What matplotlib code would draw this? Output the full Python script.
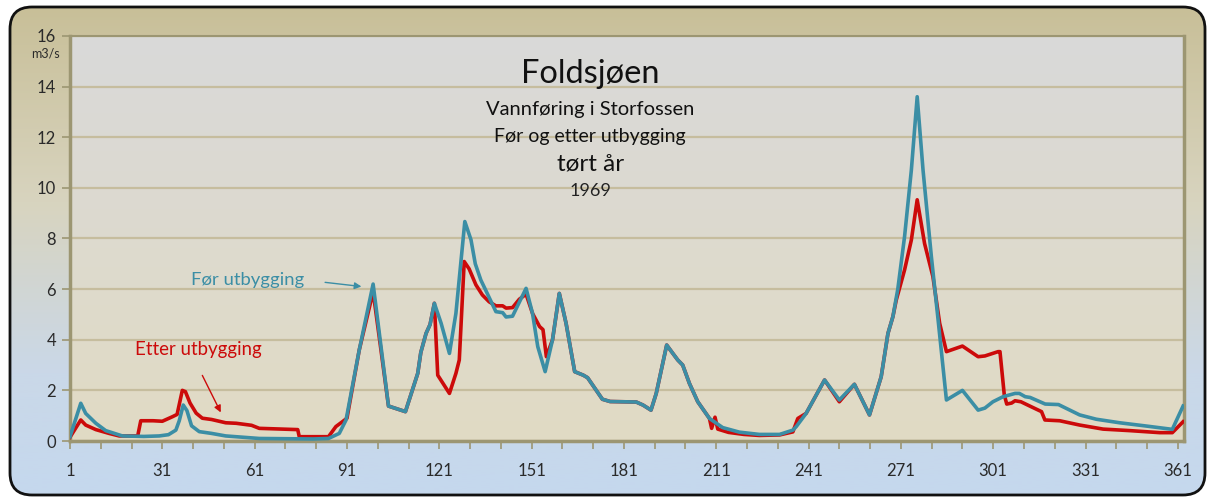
import numpy as np
import matplotlib
matplotlib.use('Agg')
import matplotlib.pyplot as plt
from matplotlib.patches import FancyBboxPatch
from matplotlib.colors import to_rgb

plt.rcParams['font.family'] = ['Lato', 'DejaVu Sans']

# Vannføring før utbygging (dag, m3/s)
dag_for = [1, 4.5, 6.1, 9.4, 12.6, 18, 25, 30, 33, 35.4, 36.5, 37.8, 39, 40.5, 43, 47,
           51.6, 62.5, 80, 85, 88.5, 90.7, 95, 99.5, 104.5, 110, 114, 115, 116.7, 118,
           119.4, 121.6, 124.3, 126.4, 129.3, 131.3, 132.7, 134.5, 136.7, 139.4, 141.6,
           142.7, 144.8, 149.2, 151.3, 153, 155.4, 157.8, 160, 162.2, 165, 167.8, 169.2,
           174, 176.5, 185, 187.2, 189.8, 191.5, 194.9, 196.9, 198.5, 200.1, 202.3, 205,
           208.8, 213.1, 218.5, 225, 231.6, 235.9, 237, 240.2, 246.2, 251, 255.9, 260.8,
           264.6, 266.8, 268.4, 270, 272.2, 274.4, 276.3, 278.2, 280.9, 283.1, 285.8, 291,
           296.1, 298.3, 300.9, 304.2, 308.1, 309.5, 311.4, 313, 317.9, 322.2, 329.1,
           334.5, 342.1, 350.8, 359.2, 362.7]
q_for = [0.17, 1.49, 1.09, 0.7, 0.41, 0.2, 0.18, 0.2, 0.25, 0.43, 0.8, 1.42, 1.2, 0.6, 0.37, 0.3,
         0.2, 0.1, 0.08, 0.1, 0.3, 0.83, 3.6, 6.2, 1.38, 1.16, 2.67, 3.5, 4.25, 4.6,
         5.44, 4.65, 3.46, 5.04, 8.67, 7.95, 7.0, 6.36, 5.8, 5.11, 5.07,
         4.9, 4.93, 6.03, 5.04, 3.73, 2.74, 4.0, 5.83, 4.65, 2.74, 2.6, 2.5,
         1.65, 1.56, 1.54, 1.42, 1.22, 1.88, 3.79, 3.46, 3.2, 3.0, 2.27, 1.55,
         0.89, 0.53, 0.35, 0.26, 0.26, 0.43, 0.57, 1.09, 2.41, 1.62, 2.24, 1.03,
         2.54, 4.25, 4.91, 6.0, 8.08, 10.7, 13.6, 10.7, 7.29, 4.78, 1.62, 2.0,
         1.22, 1.3, 1.55, 1.75, 1.88, 1.88, 1.75, 1.72, 1.46, 1.44, 1.03,
         0.86, 0.72, 0.59, 0.46, 1.38]

# Vannføring etter utbygging
dag_etter = [1, 4.5, 6.1, 9.4, 13.7, 17, 23, 24, 28, 31, 34.3, 35.8, 37.5, 38.5, 40, 42, 44,
             47, 51.6, 55, 60, 62.5, 75, 75.5, 85, 87.4, 89.5, 91, 95, 99.5, 104.5, 110,
             114, 115, 116.7, 118, 119.4, 120.5, 124.3, 126.4, 127.5, 129.1, 130.7, 132.9,
             135, 137.2, 139.4, 141.6, 142.7, 144.8, 147, 149.2, 151.3, 153.6, 154.7,
             155.8, 157.8, 160, 162.2, 165, 167.8, 169.2, 174, 176.5, 185, 187.2, 189.8,
             191.5, 194.9, 196.9, 198.5, 200.1, 202.3, 205, 208.8, 209.5, 210.6, 211.5,
             215, 220, 225, 231.6, 235.9, 237.5, 240.2, 246.2, 251, 255.9, 260.8, 264.6,
             266.8, 268.4, 269.5, 272.2, 274.4, 276.3, 278.7, 281.4, 283.6, 285.8, 291,
             296.1, 298.3, 302.6, 303.2, 304.6, 305.4, 307, 308.1, 310, 312.9, 316.7,
             317.8, 322.6, 329.1, 336.7, 345.4, 355.1, 359.2, 362.7]
q_etter = [0.15, 0.83, 0.63, 0.45, 0.3, 0.2, 0.2, 0.8, 0.8, 0.78, 0.96, 1.05, 2.0, 1.95, 1.5, 1.1, 0.9,
           0.85, 0.72, 0.7, 0.62, 0.5, 0.45, 0.17, 0.17, 0.57, 0.76, 0.9, 3.6, 5.9, 1.38, 1.16,
           2.67, 3.5, 4.25, 4.6, 5.44, 2.6, 1.88, 2.67, 3.2, 7.09, 6.8, 6.17,
           5.77, 5.5, 5.34, 5.34, 5.25, 5.27, 5.6, 5.8, 5.04, 4.52, 4.4,
           3.33, 4.0, 5.83, 4.65, 2.74, 2.6, 2.5, 1.65, 1.56, 1.54, 1.42, 1.22,
           1.88, 3.79, 3.46, 3.2, 3.0, 2.27, 1.55, 0.89, 0.5, 0.94, 0.47,
           0.34, 0.26, 0.22, 0.24, 0.36, 0.89, 1.09, 2.41, 1.55, 2.24, 1.03, 2.54,
           4.25, 4.91, 5.57, 6.76, 7.94, 9.53, 7.8, 6.5, 4.65, 3.53, 3.75,
           3.33, 3.36, 3.53, 3.53, 1.82, 1.46, 1.5, 1.59, 1.55, 1.38, 1.16,
           0.83, 0.8, 0.63, 0.47, 0.41, 0.33, 0.33, 0.76]

x_ticks = list(range(1, 362, 30))
y_ticks = list(range(0, 17, 2))

BLUE = '#3b8ea5'
RED = '#cc0a0a'
OLIVE = '#9c9672'


def gradient(stops, n=256):
    t = np.linspace(0, 1, n)
    pos = [s[0] for s in stops]
    cols = np.array([to_rgb(s[1]) for s in stops])
    img = np.stack([np.interp(t, pos, cols[:, i]) for i in range(3)], axis=1)
    return img[:, None, :]


fig = plt.figure(figsize=(12.11, 5.01), dpi=100)

# ytre ramme med gradient
bg = fig.add_axes([0, 0, 1, 1])
bg.set_xlim(0, 1211)
bg.set_ylim(501, 0)
bg.axis('off')
frame_img = gradient([(0, '#c8bf98'), (0.4, '#d8d4bf'), (0.75, '#cad8e8'), (1, '#c5d8ee')])
im = bg.imshow(frame_img, extent=(10, 1205, 495, 7), aspect='auto', zorder=0)
frame = FancyBboxPatch((10, 7), 1195, 488, boxstyle='round,pad=0,rounding_size=22',
                       fc='none', ec='#111111', lw=2, zorder=1)
bg.add_patch(frame)
im.set_clip_path(frame)
bg.set_xlim(0, 1211)
bg.set_ylim(501, 0)

# plottområdet
ax = fig.add_axes([70 / 1211, 60 / 501, 1114 / 1211, 405 / 501])
plot_img = gradient([(0, '#d9d9d9'), (1, '#e1dbc4')])
ax.imshow(plot_img, extent=(1, 363, 0, 16), aspect='auto', zorder=0)

ax.plot(dag_etter, q_etter, color=RED, lw=2.6, zorder=3, solid_joinstyle='round')
ax.plot(dag_for, q_for, color=BLUE, lw=2.6, zorder=4, solid_joinstyle='round')

ax.set_xlim(1, 363)
ax.set_ylim(0, 16)
ax.set_xticks(x_ticks)
ax.set_xticks(list(range(1, 364, 10)), minor=True)
ax.set_yticks(y_ticks)
ax.yaxis.grid(True, color='#c6bd9e', lw=1.6)
ax.set_axisbelow(True)
ax.tick_params(axis='both', which='both', color=OLIVE, width=1.2, length=6,
               labelcolor='#2a2a2a', labelsize=12)
ax.tick_params(axis='x', pad=10)
ax.tick_params(axis='y', pad=4)
for side in ['left', 'bottom', 'right']:
    ax.spines[side].set_color(OLIVE)
    ax.spines[side].set_linewidth(2.5)
ax.spines['top'].set_color(OLIVE)
ax.spines['top'].set_linewidth(1.5)

fig.text(45 / 1211, 1 - 54 / 501, 'm3/s', fontsize=9, color='#2a2a2a',
         ha='center', va='center')

# titler
ax.text(0.467, 0.905, 'Foldsjøen', transform=ax.transAxes, fontsize=23.5,
        ha='center', va='center', color='#111111')
ax.text(0.467, 0.819, 'Vannføring i Storfossen', transform=ax.transAxes, fontsize=14.5,
        ha='center', va='center', color='#111111')
ax.text(0.467, 0.753, 'Før og etter utbygging', transform=ax.transAxes, fontsize=14,
        ha='center', va='center', color='#111111')
ax.text(0.467, 0.683, 'tørt år', transform=ax.transAxes, fontsize=17.5,
        ha='center', va='center', color='#111111')
ax.text(0.467, 0.617, '1969', transform=ax.transAxes, fontsize=13,
        ha='center', va='center', color='#222222')

# merknader
ax.text(58.6, 6.36, 'Før utbygging', color=BLUE, fontsize=13.3, ha='center', va='center')
ax.annotate('', xy=(96.6, 6.09), xytext=(83, 6.28),
            arrowprops=dict(arrowstyle='-|>', color=BLUE, lw=1, mutation_scale=10))
ax.text(42.6, 3.6, 'Etter utbygging', color=RED, fontsize=13.4, ha='center', va='center')
ax.annotate('', xy=(50.4, 1.03), xytext=(43.6, 2.69),
            arrowprops=dict(arrowstyle='-|>', color=RED, lw=1, mutation_scale=10))

fig.savefig('out.png', dpi=100)
